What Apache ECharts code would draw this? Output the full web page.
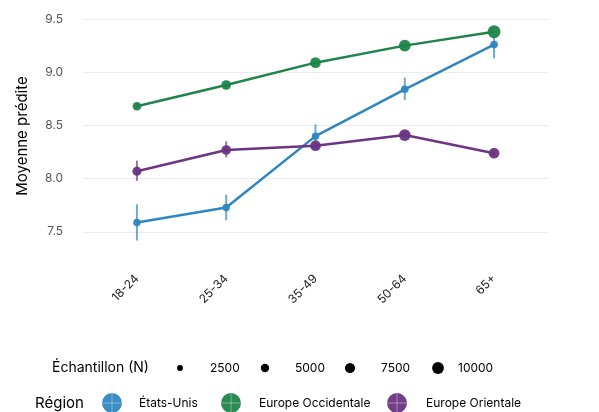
<!DOCTYPE html>
<html lang="fr">
<head>
<meta charset="UTF-8">
<title>Moyenne prédite par âge et région</title>
<script src="https://cdn.jsdelivr.net/npm/echarts@6/dist/echarts.min.js"></script>
<style>
  html, body { margin: 0; padding: 0; background: #fff; }
  #chart { width: 599px; height: 412px; }
</style>
</head>
<body>
<div id="chart"></div>
<script>
// tranches d'age
var ages = ['18-24', '25-34', '35-49', '50-64', '65+'];
var regions = ['États-Unis', 'Europe Occidentale', 'Europe Orientale'];
var colors = ['#2E86C1', '#1E8449', '#6C3483'];

// moyennes predites
var meanUS = [7.59, 7.73, 8.40, 8.84, 9.26];
var meanWest = [8.68, 8.88, 9.09, 9.25, 9.38];
var meanEast = [8.07, 8.27, 8.31, 8.41, 8.24];

// intervalles (bas / haut)
var lowUS = [7.42, 7.61, 8.29, 8.74, 9.13];
var highUS = [7.76, 7.85, 8.51, 8.95, 9.34];
var lowWest = [8.66, 8.86, 9.07, 9.23, 9.36];
var highWest = [8.70, 8.90, 9.11, 9.27, 9.40];
var lowEast = [7.98, 8.20, 8.28, 8.38, 8.21];
var highEast = [8.17, 8.35, 8.34, 8.44, 8.27];

// taille d'echantillon
var nUS = [4000, 4000, 4000, 4200, 4200];
var nWest = [5300, 6700, 8300, 10000, 11900];
var nEast = [6000, 6700, 8300, 10000, 8300];

var sizeBreaks = [2500, 5000, 7500, 10000];

function dotSize(n) { return 0.118 * Math.sqrt(n); }

var means = [meanUS, meanWest, meanEast];
var lows = [lowUS, lowWest, lowEast];
var highs = [highUS, highWest, highEast];
var sizes = [nUS, nWest, nEast];

var chart = echarts.init(document.getElementById('chart'));
var font = 'Inter, "Noto Sans", sans-serif';

var series = [];
regions.forEach(function (r, k) {
    series.push({
        type: 'custom',
        name: r + ' IC',
        xAxisIndex: 1, yAxisIndex: 1,
        clip: false,
        data: ages.map(function (a, i) { return [i, lows[k][i], highs[k][i]]; }),
        renderItem: function (params, api) {
            var p1 = api.coord([api.value(0), api.value(1)]);
            var p2 = api.coord([api.value(0), api.value(2)]);
            return {
                type: 'line',
                shape: { x1: p1[0], y1: p1[1], x2: p2[0], y2: p2[1] },
                style: { stroke: colors[k], lineWidth: 2, opacity: 0.7 }
            };
        },
        z: 1
    });
});
regions.forEach(function (r, k) {
    series.push({
        type: 'line',
        name: r,
        xAxisIndex: 1, yAxisIndex: 1,
        data: means[k],
        symbol: 'circle',
        symbolSize: function (v, p) { return dotSize(sizes[k][p.dataIndex]); },
        showAllSymbol: true,
        lineStyle: { color: colors[k], width: 2.5 },
        itemStyle: { color: colors[k], opacity: 0.95 },
        emphasis: { disabled: true },
        z: 2 + k
    });
});

// legendes faites a la main
var graphics = [];
graphics.push({
    type: 'text', x: 22, y: 136, rotation: Math.PI / 2,
    style: { text: 'Moyenne prédite', font: '15px ' + font, fill: '#000', align: 'center', verticalAlign: 'middle' }
});
graphics.push({
    type: 'text', x: 52, y: 368,
    style: { text: 'Échantillon (N)', font: '14px ' + font, fill: '#000', verticalAlign: 'middle' }
});
var sizeX = [180, 265, 350, 438];
var sizeLabelX = [210, 295, 381, 458];
sizeBreaks.forEach(function (b, i) {
    graphics.push({
        type: 'circle',
        shape: { cx: sizeX[i], cy: 368, r: dotSize(b) / 2 },
        style: { fill: '#000' }
    });
    graphics.push({
        type: 'text', x: sizeLabelX[i], y: 368,
        style: { text: String(b), font: '12px ' + font, fill: '#000', verticalAlign: 'middle' }
    });
});
graphics.push({
    type: 'text', x: 35, y: 403,
    style: { text: 'Région', font: '15px ' + font, fill: '#000', verticalAlign: 'middle' }
});
var regX = [112, 231, 397];
var regLabelX = [139, 259, 426];
regions.forEach(function (r, i) {
    graphics.push({
        type: 'circle',
        shape: { cx: regX[i], cy: 403, r: 10 },
        style: { fill: colors[i], opacity: 0.95 }
    });
    graphics.push({
        type: 'line',
        shape: { x1: regX[i] - 10, y1: 403, x2: regX[i] + 10, y2: 403 },
        style: { stroke: 'rgba(255,255,255,0.25)', lineWidth: 1.5 }
    });
    graphics.push({
        type: 'line',
        shape: { x1: regX[i], y1: 393, x2: regX[i], y2: 413 },
        style: { stroke: 'rgba(255,255,255,0.25)', lineWidth: 1.5 }
    });
    graphics.push({
        type: 'text', x: regLabelX[i], y: 403,
        style: { text: r, font: '12px ' + font, fill: '#000', verticalAlign: 'middle' }
    });
});

chart.setOption({
    animation: false,
    backgroundColor: '#fff',
    textStyle: { fontFamily: font },
    grid: [
        { left: 83, right: 51, top: 19, bottom: 127 },
        { left: 92.3, right: 60.3, top: 19, bottom: 153.4 }
    ],
    xAxis: [
        { gridIndex: 0, type: 'value', show: false, min: 0, max: 1 },
        {
            gridIndex: 1, type: 'category', data: ages, boundaryGap: true,
            axisLine: { show: false }, axisTick: { show: false },
            axisLabel: { rotate: 45, margin: 18, fontSize: 12, color: '#222', fontFamily: font }
        }
    ],
    yAxis: [
        {
            gridIndex: 0, type: 'value', min: 7, max: 9.5, interval: 0.5,
            axisLine: { show: false }, axisTick: { show: false },
            axisLabel: {
                showMinLabel: false, margin: 20, fontSize: 12, color: '#555', fontFamily: font,
                formatter: function (v) { return v.toFixed(1); }
            },
            splitLine: { showMinLine: false, lineStyle: { color: '#ebebeb', width: 1 } }
        },
        { gridIndex: 1, type: 'value', min: 7.25, max: 9.5, show: false, splitLine: { show: false } }
    ],
    series: series,
    graphic: graphics
});
</script>
</body>
</html>
